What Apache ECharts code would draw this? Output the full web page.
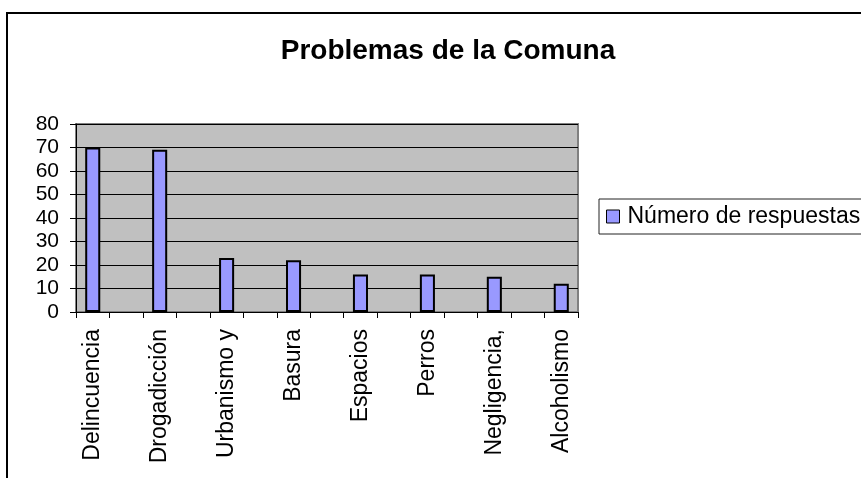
<!DOCTYPE html>
<html>
<head>
<meta charset="utf-8">
<script src="https://cdn.jsdelivr.net/npm/echarts@6/dist/echarts.min.js"></script>
<style>
  html, body { margin: 0; padding: 0; background: #fff; }
  #chart { width: 861px; height: 478px; }
</style>
</head>
<body>
<div id="chart"></div>
<script>
// visible category labels and their values
const labels = ['Delincuencia', 'Drogadicción', 'Urbanismo y', 'Basura', 'Espacios', 'Perros', 'Negligencia,', 'Alcoholismo'];
const values = [70, 69, 23, 22, 16, 16, 15, 12];
const seriesName = 'Número de respuestas';
const yTicks = [0, 10, 20, 30, 40, 50, 60, 70, 80];

// the original sheet has an empty row between each problem
const categories = [];
const data = [];
labels.forEach((name, i) => {
  categories.push(name);
  data.push(values[i]);
  if (i < labels.length - 1) {
    categories.push('');
    data.push(null);
  }
});

const font = "'Liberation Sans', Arial, sans-serif";
const chart = echarts.init(document.getElementById('chart'));

chart.setOption({
  animation: false,
  backgroundColor: '#fff',
  textStyle: { fontFamily: font, color: '#000' },
  title: {
    text: 'Problemas de la Comuna',
    left: 443,
    top: 32,
    textAlign: 'center',
    textStyle: { fontFamily: font, fontSize: 28, fontWeight: 'bold', color: '#000' }
  },
  legend: {
    data: [seriesName],
    left: 599,
    top: 199,
    orient: 'vertical',
    icon: 'rect',
    itemWidth: 13,
    itemHeight: 13,
    itemGap: 0,
    padding: [6, 20, 6, 7],
    borderColor: '#222',
    borderWidth: 1,
    backgroundColor: '#fff',
    textStyle: { fontFamily: font, fontSize: 23, color: '#000', padding: [0, 0, 0, 3] },
    itemStyle: { borderColor: '#000', borderWidth: 1 }
  },
  graphic: [{
    type: 'rect',
    shape: { x: 7, y: 13, width: 900, height: 520 },
    style: { fill: 'none', stroke: '#000', lineWidth: 2 },
    z: 100
  }],
  grid: {
    left: 76,
    right: 283,
    top: 124,
    bottom: 166,
    show: true,
    backgroundColor: '#c0c0c0',
    borderColor: '#808080',
    borderWidth: 2
  },
  xAxis: {
    type: 'category',
    data: categories,
    boundaryGap: true,
    axisLine: { lineStyle: { color: '#000', width: 1 } },
    axisTick: { show: true, length: 6, interval: 0, lineStyle: { color: '#000' } },
    axisLabel: {
      interval: 0,
      rotate: 90,
      margin: 17,
      fontSize: 23,
      fontFamily: font,
      color: '#000'
    }
  },
  yAxis: {
    type: 'value',
    min: yTicks[0],
    max: yTicks[yTicks.length - 1],
    interval: 10,
    axisLine: { show: true, lineStyle: { color: '#000', width: 1 } },
    axisTick: { show: true, length: 6, lineStyle: { color: '#000' } },
    axisLabel: { margin: 17, fontSize: 21, fontFamily: font, color: '#000' },
    splitLine: { show: true, lineStyle: { color: '#000', width: 1 } }
  },
  series: [{
    name: seriesName,
    type: 'bar',
    data: data,
    barWidth: '45%',
    itemStyle: { color: '#9999ff', borderColor: '#000', borderWidth: 2 }
  }]
});
</script>
</body>
</html>
